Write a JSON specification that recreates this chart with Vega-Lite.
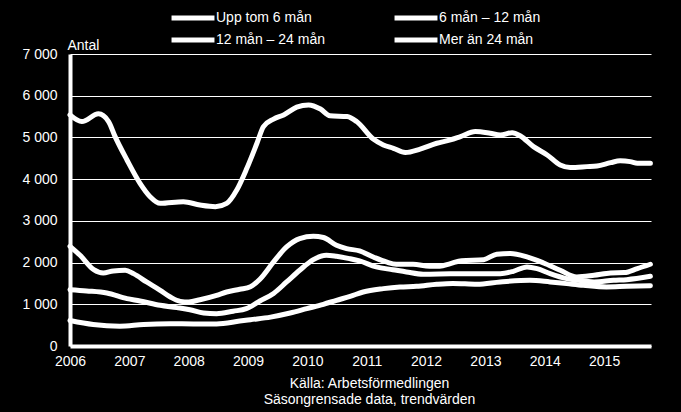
{
  "$schema": "https://vega.github.io/schema/vega-lite/v6.json",
  "width": 581,
  "height": 292,
  "autosize": "none",
  "padding": {"left": 70, "top": 54, "right": 30, "bottom": 66},
  "background": "#000000",
  "config": {"view": {"stroke": null}, "font": "Liberation Sans"},
  "data": {"values": [
    {"t": 2006.00, "s": "Upp tom 6 mån", "v": 5540},
    {"t": 2006.20, "s": "Upp tom 6 mån", "v": 5380},
    {"t": 2006.48, "s": "Upp tom 6 mån", "v": 5565},
    {"t": 2006.65, "s": "Upp tom 6 mån", "v": 5380},
    {"t": 2006.76, "s": "Upp tom 6 mån", "v": 5020},
    {"t": 2006.96, "s": "Upp tom 6 mån", "v": 4460},
    {"t": 2007.18, "s": "Upp tom 6 mån", "v": 3900},
    {"t": 2007.35, "s": "Upp tom 6 mån", "v": 3580},
    {"t": 2007.52, "s": "Upp tom 6 mån", "v": 3420},
    {"t": 2007.91, "s": "Upp tom 6 mån", "v": 3460},
    {"t": 2008.19, "s": "Upp tom 6 mån", "v": 3380},
    {"t": 2008.45, "s": "Upp tom 6 mån", "v": 3340},
    {"t": 2008.64, "s": "Upp tom 6 mån", "v": 3420},
    {"t": 2008.81, "s": "Upp tom 6 mån", "v": 3740},
    {"t": 2008.98, "s": "Upp tom 6 mån", "v": 4260},
    {"t": 2009.15, "s": "Upp tom 6 mån", "v": 4860},
    {"t": 2009.26, "s": "Upp tom 6 mån", "v": 5260},
    {"t": 2009.43, "s": "Upp tom 6 mån", "v": 5440},
    {"t": 2009.60, "s": "Upp tom 6 mån", "v": 5540},
    {"t": 2009.82, "s": "Upp tom 6 mån", "v": 5725},
    {"t": 2010.02, "s": "Upp tom 6 mån", "v": 5780},
    {"t": 2010.22, "s": "Upp tom 6 mån", "v": 5680},
    {"t": 2010.38, "s": "Upp tom 6 mån", "v": 5520},
    {"t": 2010.67, "s": "Upp tom 6 mån", "v": 5500},
    {"t": 2010.83, "s": "Upp tom 6 mån", "v": 5380},
    {"t": 2011.11, "s": "Upp tom 6 mån", "v": 4960},
    {"t": 2011.28, "s": "Upp tom 6 mån", "v": 4820},
    {"t": 2011.45, "s": "Upp tom 6 mån", "v": 4740},
    {"t": 2011.65, "s": "Upp tom 6 mån", "v": 4640},
    {"t": 2011.90, "s": "Upp tom 6 mån", "v": 4720},
    {"t": 2012.18, "s": "Upp tom 6 mån", "v": 4860},
    {"t": 2012.41, "s": "Upp tom 6 mån", "v": 4940},
    {"t": 2012.58, "s": "Upp tom 6 mån", "v": 5020},
    {"t": 2012.83, "s": "Upp tom 6 mån", "v": 5140},
    {"t": 2013.08, "s": "Upp tom 6 mån", "v": 5100},
    {"t": 2013.25, "s": "Upp tom 6 mån", "v": 5060},
    {"t": 2013.45, "s": "Upp tom 6 mån", "v": 5115},
    {"t": 2013.59, "s": "Upp tom 6 mån", "v": 5035},
    {"t": 2013.81, "s": "Upp tom 6 mån", "v": 4780},
    {"t": 2014.04, "s": "Upp tom 6 mån", "v": 4580},
    {"t": 2014.26, "s": "Upp tom 6 mån", "v": 4340},
    {"t": 2014.43, "s": "Upp tom 6 mån", "v": 4280},
    {"t": 2014.71, "s": "Upp tom 6 mån", "v": 4300},
    {"t": 2014.88, "s": "Upp tom 6 mån", "v": 4315},
    {"t": 2015.11, "s": "Upp tom 6 mån", "v": 4395},
    {"t": 2015.27, "s": "Upp tom 6 mån", "v": 4440},
    {"t": 2015.44, "s": "Upp tom 6 mån", "v": 4420},
    {"t": 2015.56, "s": "Upp tom 6 mån", "v": 4380},
    {"t": 2015.78, "s": "Upp tom 6 mån", "v": 4380},

    {"t": 2006.00, "s": "6 mån – 12 mån", "v": 2390},
    {"t": 2006.17, "s": "6 mån – 12 mån", "v": 2175},
    {"t": 2006.40, "s": "6 mån – 12 mån", "v": 1830},
    {"t": 2006.56, "s": "6 mån – 12 mån", "v": 1750},
    {"t": 2006.73, "s": "6 mån – 12 mån", "v": 1800},
    {"t": 2006.93, "s": "6 mån – 12 mån", "v": 1815},
    {"t": 2007.07, "s": "6 mån – 12 mån", "v": 1735},
    {"t": 2007.29, "s": "6 mån – 12 mån", "v": 1535},
    {"t": 2007.52, "s": "6 mån – 12 mån", "v": 1335},
    {"t": 2007.69, "s": "6 mån – 12 mån", "v": 1175},
    {"t": 2007.86, "s": "6 mån – 12 mån", "v": 1070},
    {"t": 2008.00, "s": "6 mån – 12 mån", "v": 1055},
    {"t": 2008.19, "s": "6 mån – 12 mån", "v": 1110},
    {"t": 2008.47, "s": "6 mån – 12 mån", "v": 1215},
    {"t": 2008.64, "s": "6 mån – 12 mån", "v": 1295},
    {"t": 2008.86, "s": "6 mån – 12 mån", "v": 1360},
    {"t": 2009.04, "s": "6 mån – 12 mån", "v": 1420},
    {"t": 2009.20, "s": "6 mån – 12 mån", "v": 1600},
    {"t": 2009.43, "s": "6 mån – 12 mån", "v": 2015},
    {"t": 2009.65, "s": "6 mån – 12 mån", "v": 2375},
    {"t": 2009.87, "s": "6 mån – 12 mån", "v": 2575},
    {"t": 2010.10, "s": "6 mån – 12 mån", "v": 2630},
    {"t": 2010.27, "s": "6 mån – 12 mån", "v": 2600},
    {"t": 2010.49, "s": "6 mån – 12 mån", "v": 2415},
    {"t": 2010.66, "s": "6 mån – 12 mån", "v": 2335},
    {"t": 2010.88, "s": "6 mån – 12 mån", "v": 2280},
    {"t": 2011.11, "s": "6 mån – 12 mån", "v": 2135},
    {"t": 2011.33, "s": "6 mån – 12 mån", "v": 2015},
    {"t": 2011.50, "s": "6 mån – 12 mån", "v": 1960},
    {"t": 2011.78, "s": "6 mån – 12 mån", "v": 1960},
    {"t": 2012.06, "s": "6 mån – 12 mån", "v": 1910},
    {"t": 2012.23, "s": "6 mån – 12 mån", "v": 1910},
    {"t": 2012.41, "s": "6 mån – 12 mån", "v": 1975},
    {"t": 2012.60, "s": "6 mån – 12 mån", "v": 2045},
    {"t": 2012.97, "s": "6 mån – 12 mån", "v": 2070},
    {"t": 2013.19, "s": "6 mån – 12 mån", "v": 2200},
    {"t": 2013.42, "s": "6 mån – 12 mån", "v": 2215},
    {"t": 2013.70, "s": "6 mån – 12 mån", "v": 2135},
    {"t": 2013.98, "s": "6 mån – 12 mån", "v": 1990},
    {"t": 2014.26, "s": "6 mån – 12 mån", "v": 1815},
    {"t": 2014.54, "s": "6 mån – 12 mån", "v": 1655},
    {"t": 2014.83, "s": "6 mån – 12 mån", "v": 1695},
    {"t": 2015.11, "s": "6 mån – 12 mån", "v": 1750},
    {"t": 2015.34, "s": "6 mån – 12 mån", "v": 1760},
    {"t": 2015.56, "s": "6 mån – 12 mån", "v": 1855},
    {"t": 2015.78, "s": "6 mån – 12 mån", "v": 1960},

    {"t": 2006.00, "s": "12 mån – 24 mån", "v": 1350},
    {"t": 2006.28, "s": "12 mån – 24 mån", "v": 1320},
    {"t": 2006.62, "s": "12 mån – 24 mån", "v": 1270},
    {"t": 2006.96, "s": "12 mån – 24 mån", "v": 1135},
    {"t": 2007.18, "s": "12 mån – 24 mån", "v": 1080},
    {"t": 2007.52, "s": "12 mån – 24 mån", "v": 975},
    {"t": 2007.80, "s": "12 mån – 24 mån", "v": 920},
    {"t": 2008.02, "s": "12 mån – 24 mån", "v": 870},
    {"t": 2008.25, "s": "12 mån – 24 mån", "v": 790},
    {"t": 2008.47, "s": "12 mån – 24 mån", "v": 775},
    {"t": 2008.75, "s": "12 mån – 24 mån", "v": 835},
    {"t": 2008.97, "s": "12 mån – 24 mån", "v": 895},
    {"t": 2009.20, "s": "12 mån – 24 mån", "v": 1080},
    {"t": 2009.43, "s": "12 mån – 24 mån", "v": 1260},
    {"t": 2009.65, "s": "12 mån – 24 mån", "v": 1535},
    {"t": 2009.87, "s": "12 mån – 24 mån", "v": 1815},
    {"t": 2010.10, "s": "12 mån – 24 mån", "v": 2070},
    {"t": 2010.32, "s": "12 mån – 24 mån", "v": 2175},
    {"t": 2010.49, "s": "12 mån – 24 mån", "v": 2150},
    {"t": 2010.71, "s": "12 mån – 24 mån", "v": 2095},
    {"t": 2010.88, "s": "12 mån – 24 mån", "v": 2040},
    {"t": 2011.16, "s": "12 mån – 24 mån", "v": 1895},
    {"t": 2011.44, "s": "12 mån – 24 mån", "v": 1830},
    {"t": 2011.67, "s": "12 mån – 24 mån", "v": 1775},
    {"t": 2011.95, "s": "12 mån – 24 mån", "v": 1720},
    {"t": 2012.41, "s": "12 mån – 24 mån", "v": 1730},
    {"t": 2012.91, "s": "12 mån – 24 mån", "v": 1735},
    {"t": 2013.25, "s": "12 mån – 24 mån", "v": 1735},
    {"t": 2013.47, "s": "12 mån – 24 mån", "v": 1790},
    {"t": 2013.70, "s": "12 mån – 24 mån", "v": 1895},
    {"t": 2013.87, "s": "12 mån – 24 mån", "v": 1855},
    {"t": 2014.09, "s": "12 mån – 24 mån", "v": 1735},
    {"t": 2014.37, "s": "12 mån – 24 mån", "v": 1615},
    {"t": 2014.65, "s": "12 mån – 24 mån", "v": 1560},
    {"t": 2014.83, "s": "12 mån – 24 mån", "v": 1535},
    {"t": 2015.16, "s": "12 mån – 24 mån", "v": 1575},
    {"t": 2015.38, "s": "12 mån – 24 mån", "v": 1590},
    {"t": 2015.78, "s": "12 mån – 24 mån", "v": 1670},

    {"t": 2006.00, "s": "Mer än 24 mån", "v": 613},
    {"t": 2006.39, "s": "Mer än 24 mån", "v": 517},
    {"t": 2006.84, "s": "Mer än 24 mån", "v": 476},
    {"t": 2007.24, "s": "Mer än 24 mån", "v": 517},
    {"t": 2007.69, "s": "Mer än 24 mån", "v": 533},
    {"t": 2008.08, "s": "Mer än 24 mån", "v": 530},
    {"t": 2008.47, "s": "Mer än 24 mån", "v": 530},
    {"t": 2008.86, "s": "Mer än 24 mån", "v": 597},
    {"t": 2009.04, "s": "Mer än 24 mån", "v": 630},
    {"t": 2009.38, "s": "Mer än 24 mån", "v": 693},
    {"t": 2009.71, "s": "Mer än 24 mån", "v": 790},
    {"t": 2009.99, "s": "Mer än 24 mån", "v": 895},
    {"t": 2010.27, "s": "Mer än 24 mån", "v": 1000},
    {"t": 2010.49, "s": "Mer än 24 mån", "v": 1095},
    {"t": 2010.72, "s": "Mer än 24 mån", "v": 1190},
    {"t": 2010.94, "s": "Mer än 24 mån", "v": 1295},
    {"t": 2011.28, "s": "Mer än 24 mån", "v": 1375},
    {"t": 2011.56, "s": "Mer än 24 mån", "v": 1415},
    {"t": 2011.84, "s": "Mer än 24 mån", "v": 1430},
    {"t": 2012.18, "s": "Mer än 24 mån", "v": 1480},
    {"t": 2012.45, "s": "Mer än 24 mån", "v": 1500},
    {"t": 2012.86, "s": "Mer än 24 mån", "v": 1480},
    {"t": 2013.25, "s": "Mer än 24 mån", "v": 1535},
    {"t": 2013.75, "s": "Mer än 24 mån", "v": 1575},
    {"t": 2014.09, "s": "Mer än 24 mån", "v": 1535},
    {"t": 2014.37, "s": "Mer än 24 mån", "v": 1495},
    {"t": 2014.65, "s": "Mer än 24 mån", "v": 1455},
    {"t": 2015.04, "s": "Mer än 24 mån", "v": 1415},
    {"t": 2015.38, "s": "Mer än 24 mån", "v": 1430},
    {"t": 2015.78, "s": "Mer än 24 mån", "v": 1445}
  ]},
  "mark": {"type": "line", "interpolate": "monotone", "strokeWidth": 5, "strokeCap": "round", "strokeJoin": "round"},
  "encoding": {
    "x": {
      "field": "t", "type": "quantitative",
      "scale": {"domain": [2006, 2015.79], "nice": false, "zero": false},
      "axis": {
        "values": [2006, 2007, 2008, 2009, 2010, 2011, 2012, 2013, 2014, 2015],
        "format": "d", "labelFlush": false, "grid": false, "ticks": false,
        "domainColor": "#ffffff", "domainWidth": 4,
        "labelColor": "#ffffff", "labelFontSize": 14, "labelPadding": 8,
        "title": ["Källa: Arbetsförmedlingen", "Säsongrensade data, trendvärden"],
        "titleColor": "#ffffff", "titleFontSize": 14, "titleFontWeight": "normal",
        "titleLineHeight": 16, "titleX": 299, "titleY": 30, "titleAlign": "center", "titleBaseline": "top"
      }
    },
    "y": {
      "field": "v", "type": "quantitative",
      "scale": {"domain": [0, 7000], "nice": false},
      "axis": {
        "values": [0, 1000, 2000, 3000, 4000, 5000, 6000, 7000],
        "format": ",d", "labelExpr": "replace(datum.label, ',', ' ')",
        "grid": true, "gridColor": "#ffffff", "gridWidth": 1, "gridOpacity": 1, "ticks": false,
        "domainColor": "#ffffff", "domainWidth": 4,
        "labelColor": "#ffffff", "labelFontSize": 14, "labelPadding": 13,
        "title": "Antal", "titleAngle": 0, "titleX": -3, "titleY": -5,
        "titleAlign": "left", "titleBaseline": "alphabetic",
        "titleFontWeight": "normal", "titleFontSize": 14, "titleColor": "#ffffff"
      }
    },
    "color": {
      "field": "s", "type": "nominal",
      "scale": {
        "domain": ["Upp tom 6 mån", "6 mån – 12 mån", "12 mån – 24 mån", "Mer än 24 mån"],
        "range": ["#ffffff", "#ffffff", "#ffffff", "#ffffff"]
      },
      "legend": {
        "orient": "none", "legendX": 111, "legendY": -48, "direction": "horizontal",
        "columns": 2, "title": null, "padding": 0,
        "symbolType": "M-2.26,0H2.26", "symbolStrokeWidth": 5, "symbolSize": 361,
        "symbolStrokeColor": "#ffffff", "symbolFillColor": "#ffffff",
        "labelColor": "#ffffff", "labelFontSize": 14, "labelOffset": 11,
        "columnPadding": 59, "rowPadding": 0
      }
    }
  }
}
